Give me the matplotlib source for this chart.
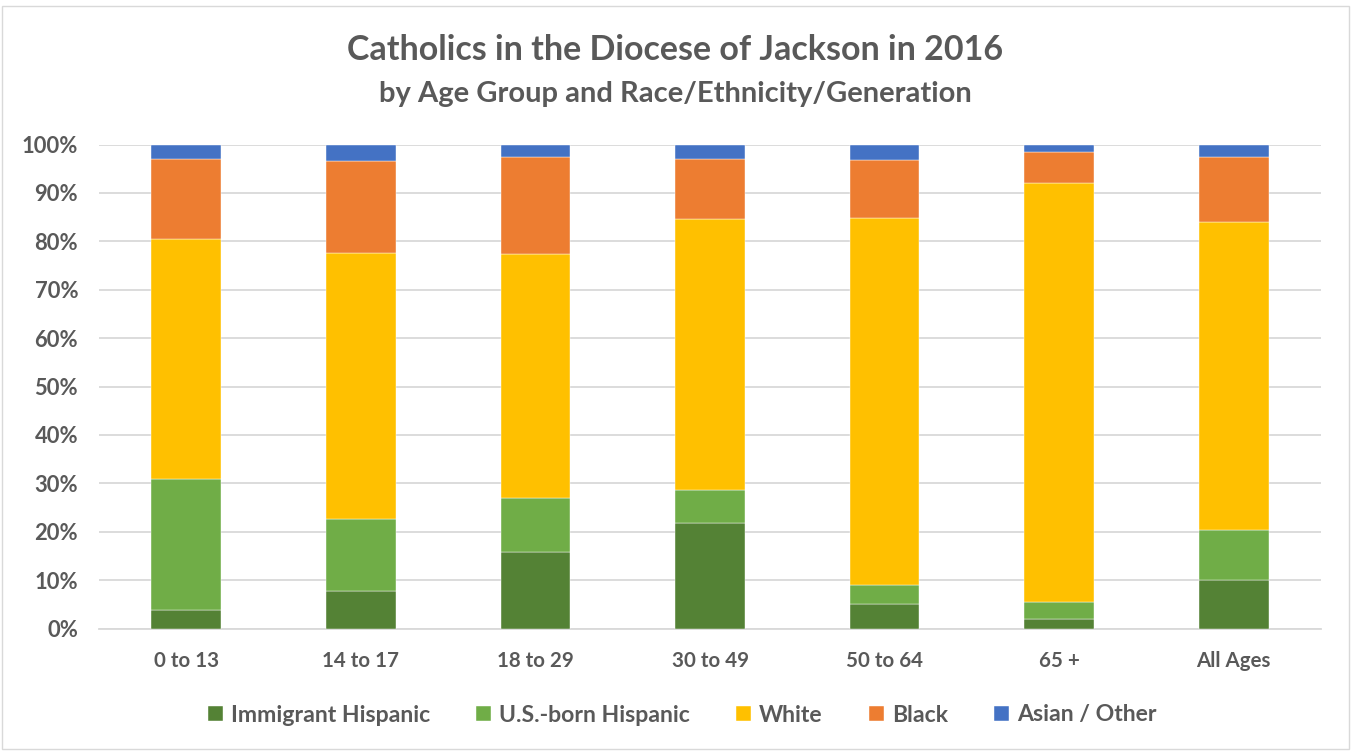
import matplotlib
matplotlib.use("Agg")
import matplotlib.pyplot as plt
import numpy as np
from matplotlib.patches import Rectangle

categories = ["0 to 13", "14 to 17", "18 to 29", "30 to 49", "50 to 64", "65 +", "All Ages"]
immigrant_hispanic = [3.8, 7.7, 15.8, 21.9, 5.1, 2.0, 10.1]
us_born_hispanic = [27.1, 15.0, 11.2, 6.8, 3.8, 3.5, 10.2]
white = [49.5, 54.9, 50.4, 55.9, 75.9, 86.5, 63.6]
black = [16.6, 19.0, 20.0, 12.5, 12.1, 6.4, 13.5]
asian_other = [3.0, 3.4, 2.6, 2.9, 3.1, 1.6, 2.6]
series_names = ["Immigrant Hispanic", "U.S.-born Hispanic", "White", "Black", "Asian / Other"]
yticks = [0, 10, 20, 30, 40, 50, 60, 70, 80, 90, 100]

colors = ["#548235", "#70AD47", "#FFC000", "#ED7D31", "#4472C4"]
text_color = "#595959"
font = ["Lato", "DejaVu Sans"]
plt.rcParams['font.family'] = font

W, H = 1351, 751
fig = plt.figure(figsize=(W / 100, H / 100), dpi=100)
ax = fig.add_axes([99 / W, 1 - 628.5 / H, (1321 - 99) / W, (628.5 - 144.5) / H])

x = np.arange(len(categories))
bottom = np.zeros(len(categories))
series = [immigrant_hispanic, us_born_hispanic, white, black, asian_other]
for vals, name, c in zip(series, series_names, colors):
    vals = np.array(vals)
    ax.bar(x, vals, 0.4, bottom=bottom, color=c, label=name, zorder=3,
           edgecolor="white", linewidth=0.3)
    bottom += vals

ax.set_xlim(-0.5, len(categories) - 0.5)
ax.set_ylim(0, 100)
ax.set_yticks(yticks)
ax.set_yticklabels([f"{t}%" for t in yticks])
ax.set_xticks(x)
ax.set_xticklabels(categories)
ax.grid(axis="y", color="#D9D9D9", linewidth=1.3, zorder=0)
for s in ["top", "right", "left"]:
    ax.spines[s].set_visible(False)
ax.spines["bottom"].set_color("#D9D9D9")
ax.spines["bottom"].set_linewidth(1.3)
ax.tick_params(axis="y", length=0, colors=text_color, labelsize=15.8, pad=15)
ax.tick_params(axis="x", length=0, colors=text_color, labelsize=14.8, pad=16)
for lab in ax.get_xticklabels() + ax.get_yticklabels():
    lab.set_fontweight("bold")
    lab.set_color(text_color)

fig.text(0.5, 1 - 50 / H, "Catholics in the Diocese of Jackson in 2016", ha="center", va="center",
         fontsize=24.5, fontweight="bold", color=text_color)
fig.text(0.5, 1 - 94 / H, "by Age Group and Race/Ethnicity/Generation", ha="center", va="center",
         fontsize=21, fontweight="bold", color=text_color)

leg = fig.legend(loc="center", bbox_to_anchor=(0.505, 1 - 715 / H), ncol=5, frameon=False,
                 fontsize=16.6, handlelength=0.65, handleheight=0.65, handletextpad=0.35,
                 columnspacing=2.0)
for t in leg.get_texts():
    t.set_color(text_color)
    t.set_fontweight("bold")

fig.patches.append(Rectangle((2 / W, 2 / H), 1 - 4 / W, 1 - 8 / H, transform=fig.transFigure,
                             fill=False, edgecolor="#D9D9D9", linewidth=1))

fig.savefig("out.png", dpi=100)
